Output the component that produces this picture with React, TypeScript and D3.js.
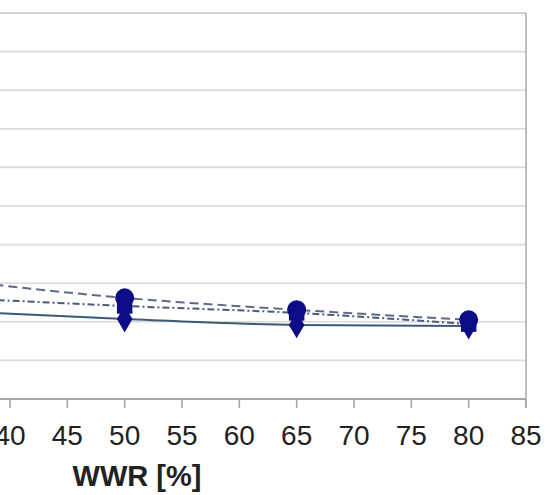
import React from "react";
import * as d3 from "d3";

const wwr = [35, 50, 65, 80];
const seriesSolid = [2.28, 2.07, 1.92, 1.89];
const seriesDashed = [3.08, 2.62, 2.31, 2.05];
const seriesDashDot = [2.62, 2.41, 2.23, 1.94];
const xTicks = [40, 45, 50, 55, 60, 65, 70, 75, 80, 85];
const yGrid = [0, 1, 2, 3, 4, 5, 6, 7, 8, 9, 10];
const xTitle = "WWR [%]";

const W = 551;
const H = 495;

export default function App() {
  const x = d3.scaleLinear().domain([40, 85]).range([10, 526]);
  const y = d3.scaleLinear().domain([0, 10]).range([399, 13]);
  const plotLeft = -300;
  const plotRight = x(85);

  const line = d3
    .line<[number, number]>()
    .x((d) => x(d[0]))
    .y((d) => y(d[1]))
    .curve(d3.curveMonotoneX);

  const mk = (vals: number[]) => wwr.map((w, i) => [w, vals[i]] as [number, number]);

  const navy = "#0c0c86";
  const diamond = d3.symbol().type(d3.symbolDiamond).size(210)() as string;
  const square = d3.symbol().type(d3.symbolSquare).size(240)() as string;

  return (
    <svg
      width={W}
      height={H}
      style={{ position: "absolute", left: 0, top: 0, background: "#fff" }}
      fontFamily="'Liberation Sans', Arial, sans-serif"
    >
      <rect x={0} y={0} width={W} height={H} fill="#fff" />
      {yGrid.slice(1, 10).map((g) => (
        <line key={g} x1={plotLeft} x2={plotRight} y1={y(g)} y2={y(g)} stroke="#dadada" strokeWidth={1.6} />
      ))}
      <line x1={plotLeft} x2={plotRight} y1={y(10)} y2={y(10)} stroke="#c4c4c4" strokeWidth={1.6} />
      <line x1={plotRight} x2={plotRight} y1={y(10)} y2={y(0) + 9} stroke="#b0b0b0" strokeWidth={1.6} />
      <line x1={plotLeft} x2={plotRight} y1={y(0)} y2={y(0)} stroke="#a6a6a6" strokeWidth={2} />
      {xTicks.map((t) => (
        <g key={t}>
          <line x1={x(t)} x2={x(t)} y1={y(0)} y2={y(0) + 9} stroke="#a6a6a6" strokeWidth={1.6} />
          <text x={x(t)} y={445} textAnchor="middle" fontSize={28} fill="#222">
            {t}
          </text>
        </g>
      ))}
      <text x={137} y={486} textAnchor="middle" fontSize={29} fontWeight="bold" fill="#222">
        {xTitle}
      </text>

      <path d={line(mk(seriesSolid)) as string} fill="none" stroke="#3e5878" strokeWidth={2} />
      <path
        d={line(mk(seriesDashed)) as string}
        fill="none"
        stroke="#5d6a85"
        strokeWidth={2}
        strokeDasharray="9,5"
      />
      <path
        d={line(mk(seriesDashDot)) as string}
        fill="none"
        stroke="#4c5a78"
        strokeWidth={2}
        strokeDasharray="7,3,2,3"
      />

      {wwr.map((w, i) => (
        <g key={w}>
          <path d={diamond} transform={`translate(${x(w)},${y(seriesSolid[i])})`} fill={navy} />
          <path d={square} transform={`translate(${x(w)},${y(seriesDashDot[i])})`} fill={navy} />
          <circle cx={x(w)} cy={y(seriesDashed[i])} r={9.5} fill={navy} />
        </g>
      ))}
    </svg>
  );
}
